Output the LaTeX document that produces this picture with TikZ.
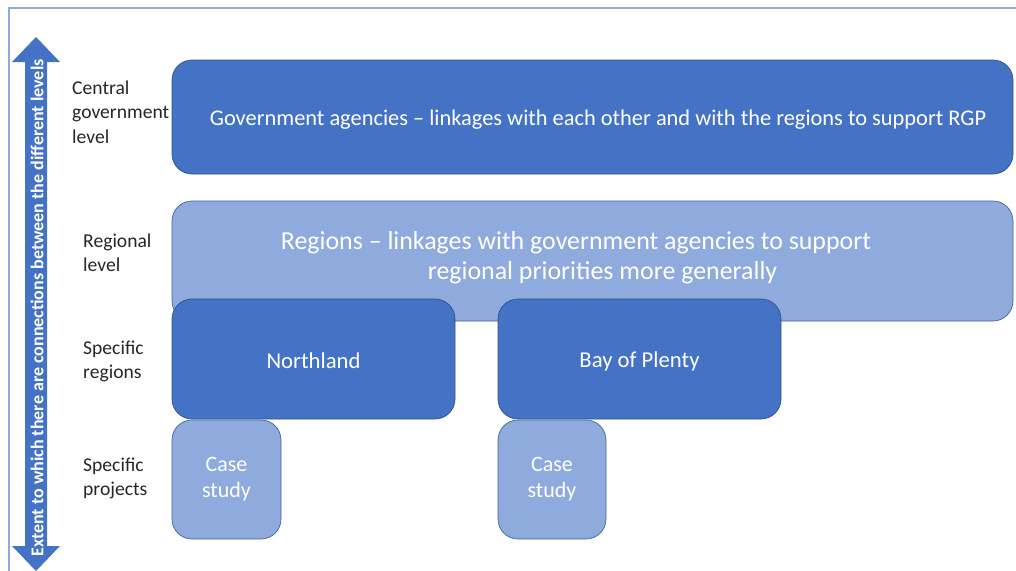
\documentclass[tikz,border=0pt]{standalone}
\usepackage{fontspec}
\setmainfont{Carlito}
\definecolor{dkblue}{HTML}{4472C4}
\definecolor{ltblue}{HTML}{8FAADC}
\definecolor{edgeblue}{HTML}{2F528F}
\definecolor{frameblue}{HTML}{8FAADC}
\definecolor{labelgray}{HTML}{262626}
\begin{document}
\begin{tikzpicture}[x=1pt,y=-1pt,
  box/.style={rectangle, rounded corners=20pt, draw=edgeblue, line width=0.7pt,
    anchor=north west, inner sep=0pt, outer sep=0pt, text=white,
    font=\fontsize{22.7}{28}\selectfont},
  darkbox/.style={box, fill=dkblue},
  lightbox/.style={box, fill=ltblue, draw=edgeblue!80!ltblue},
  levellabel/.style={anchor=west, align=left, inner sep=0pt, text=labelgray,
    font=\fontsize{19.6}{24.5}\selectfont}]
\useasboundingbox (0,0) rectangle (1016,570);
% frame
\draw[frameblue, line width=2pt] (9,580) -- (9,8) -- (1030,8);
% double block arrow
\fill[dkblue] (36,37) -- (60,62) -- (47,62) -- (47,546) -- (60,546) -- (36,571)
  -- (12,546) -- (25,546) -- (25,62) -- (12,62) -- cycle;
\node[rotate=90, text=white, inner sep=0pt, font=\bfseries\fontsize{18}{20}\selectfont]
  (arrowtext) at (37,308) {Extent to which there are connections between the different levels};
% boxes
\node[darkbox, minimum width=841pt, minimum height=114pt, font=\fontsize{22.4}{28}\selectfont] (central) at (172,60)
  {\raisebox{-3pt}[\height][\depth]{\hspace*{11pt}Government agencies -- linkages with each other and with the regions to support RGP}};
\node[lightbox, minimum width=841pt, minimum height=120pt] (regional) at (172,201) {};
\node[text=white, align=center, inner sep=0pt, font=\fontsize{25.9}{30}\selectfont] (regtext) at (576,258)
  {Regions -- linkages with government agencies to support\\\hspace*{53pt}regional priorities more generally};
\node[darkbox, minimum width=283pt, minimum height=120pt] (northland) at (172,299) {\raisebox{-2pt}[\height][\depth]{Northland}};
\node[darkbox, minimum width=283pt, minimum height=120pt] (bop) at (498,299) {\raisebox{-2pt}[\height][\depth]{Bay of Plenty}};
\node[lightbox, minimum width=109pt, minimum height=119pt, align=center,
  font=\fontsize{22}{26}\selectfont] (case1) at (172,420) {Case\\study};
\node[lightbox, minimum width=108pt, minimum height=119pt, align=center,
  font=\fontsize{22}{26}\selectfont] (case2) at (498,420) {Case\\study};
% level labels
\node[levellabel] (lcentral) at (72,112) {Central\\government\\level};
\node[levellabel] (lregional) at (83,253) {Regional\\level};
\node[levellabel] (lregions) at (83,361.5) {Specific\\regions};
\node[levellabel] (lprojects) at (83,478.5) {Specific\\projects};
\end{tikzpicture}
\end{document}
